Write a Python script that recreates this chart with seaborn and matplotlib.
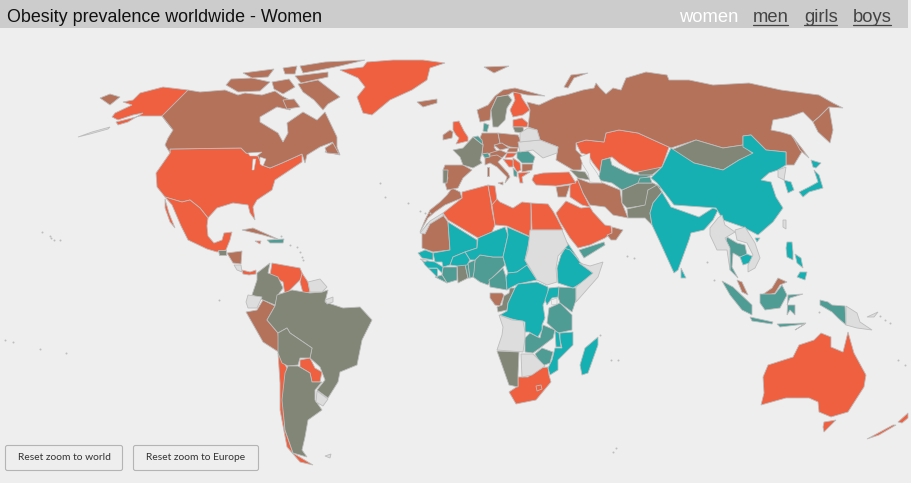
import matplotlib
matplotlib.use('Agg')
import matplotlib.pyplot as plt
from matplotlib.patches import FancyBboxPatch, Rectangle
import seaborn as sns

# country outlines in image pixels (x, y)
usa = [(170,149),(241,148),(246,153),(258,156),(262,165),(270,168),(282,163),(302,154),(302,162),(287,172),(275,180),(272,190),(257,200),(253,207),(255,220),(250,213),(248,205),(233,203),(217,208),(208,218),(200,208),(190,200),(182,202),(165,197),(157,187),(156,173),(163,163),(170,153)]
alaska = [(188,90),(163,87),(140,93),(133,100),(123,102),(132,105),(115,113),(112,117),(118,120),(133,115),(143,113),(128,122),(118,125),(116,122),(140,116),(162,116),(173,130),(165,120)]
aleutian = [(110,127),(92,132),(78,137),(90,134),(108,129)]
mexico = [(165,197),(182,202),(190,200),(200,208),(208,218),(207,226),(208,236),(214,243),(222,240),(224,233),(232,232),(230,240),(226,250),(217,252),(207,249),(188,240),(181,226),(172,205)]
baja = [(165,199),(169,213),(175,228),(170,222),(165,208)]
canada = [(162,116),(188,90),(200,92),(225,90),(238,95),(245,93),(262,95),(275,91),(282,96),(294,102),(290,110),(277,107),(260,117),(260,122),(278,133),(283,142),(288,133),(287,123),(303,112),(317,120),(325,112),(337,137),(337,147),(340,155),(325,152),(333,142),(320,147),(307,155),(305,163),(302,154),(282,163),(270,168),(262,165),(258,156),(246,153),(241,148),(170,149),(170,153),(165,145),(168,138),(173,130)]
baffin = [(298,84),(318,80),(340,97),(328,104),(323,110),(314,100),(303,92)]
ellesmere = [(300,66),(325,62),(365,60),(340,66),(320,70),(303,73)]
devon = [(295,76),(328,72),(328,77),(301,83)]
victoria = [(231,79),(252,78),(270,82),(260,91),(238,92),(226,85)]
parry = [(243,73),(274,69),(268,77),(252,78)]
somerset = [(272,82),(289,79),(295,87),(283,94),(274,89)]
bathurst = [(283,68),(297,66),(295,74),(285,74)]
southampton = [(283,100),(294,99),(300,107),(287,109)]
newfoundland = [(325,148),(333,143),(339,154),(327,153)]
greenland = [(340,70),(363,67),(367,62),(393,60),(423,60),(445,63),(430,68),(427,80),(412,90),(390,100),(372,115),(363,113),(357,97),(365,87),(358,78)]
iceland = [(417,102),(437,99),(437,103),(423,107)]
cuba = [(242,230),(253,228),(280,240),(263,235)]
jamaica = [(255,241),(261,241),(260,244)]
haiti = [(267,240),(284,239),(283,243),(270,243)]
guatemala = [(218,250),(226,250),(226,255),(219,255)]
honduras = [(227,253),(242,251),(241,264),(233,263)]
costa_rica = [(234,265),(241,265),(242,272),(237,270)]
panama = [(242,270),(250,272),(256,270),(256,274),(249,275),(243,274)]
colombia = [(270,263),(268,273),(278,277),(283,288),(278,295),(275,305),(263,300),(252,295),(257,280),(257,273)]
venezuela = [(272,263),(300,268),(303,275),(300,280),(292,288),(285,295),(283,282),(270,275)]
guyana = [(302,273),(308,282),(310,292),(303,293),(300,282)]
suriname = [(308,282),(320,279),(327,287),(322,292),(310,292)]
fr_guiana = [(325,300),(333,297),(333,302),(327,304)]
ecuador = [(248,295),(262,297),(257,308),(248,308),(246,302)]
peru = [(263,300),(275,306),(267,320),(278,333),(280,353),(263,342),(246,312),(257,310)]
brazil = [(277,295),(283,293),(292,290),(310,293),(322,292),(328,290),(325,302),(343,308),(360,307),(372,320),(362,340),(357,365),(340,372),(338,382),(328,398),(317,390),(325,380),(320,367),(310,358),(312,348),(290,333),(287,328),(278,333),(267,320),(275,306)]
bolivia = [(278,333),(287,328),(290,333),(312,348),(310,358),(300,358),(298,365),(288,366),(282,363),(278,353)]
paraguay = [(300,360),(310,358),(315,368),(322,372),(320,382),(312,382),(310,373),(300,367)]
argentina = [(288,366),(298,366),(310,373),(312,382),(322,382),(315,390),(315,400),(322,410),(308,420),(305,437),(302,450),(307,457),(293,453),(285,430),(282,400),(285,373)]
chile = [(278,353),(287,368),(283,400),(285,430),(293,453),(313,465),(300,462),(287,447),(280,410),(280,383)]
uruguay = [(317,391),(328,399),(323,406),(316,402)]
falkland = [(325,456),(331,454),(330,458)]
morocco = [(452,188),(460,192),(462,198),(445,205),(435,212),(428,218),(420,232),(425,220),(430,210),(440,202),(447,195)]
mauritania = [(422,248),(433,252),(450,250),(448,222),(443,215),(427,224),(422,234)]
w_sahara = [(420,233),(430,221),(443,213),(443,216),(430,224),(425,234)]
algeria = [(462,192),(488,185),(490,196),(492,210),(495,225),(492,232),(478,238),(448,220),(443,213),(462,198)]
tunisia = [(488,185),(495,186),(497,200),(492,205),(490,196)]
libya = [(492,205),(497,199),(500,202),(513,208),(522,202),(531,203),(531,237),(507,226),(495,225)]
egypt = [(531,203),(548,204),(553,211),(557,218),(563,230),(532,230)]
sudan = [(530,230),(562,230),(568,245),(558,256),(556,268),(557,282),(547,285),(537,280),(530,268),(525,260),(528,250)]
mali = [(448,222),(477,240),(477,248),(465,252),(453,257),(450,265),(443,267),(442,262),(435,262),(433,253),(450,250)]
niger = [(478,238),(492,232),(505,227),(508,235),(503,257),(493,257),(480,255),(475,260),(470,260),(465,252),(477,248)]
chad = [(507,227),(530,237),(525,260),(528,265),(517,272),(508,273),(503,257),(508,235)]
nigeria = [(475,260),(480,255),(493,257),(503,257),(505,265),(493,277),(488,285),(480,282),(473,277)]
cameroon = [(503,268),(506,277),(507,290),(490,287),(489,280),(493,277)]
car = [(508,273),(517,272),(527,265),(537,280),(518,284),(510,288),(507,290),(506,277)]
drc = [(515,288),(518,284),(537,282),(548,287),(548,295),(543,305),(545,318),(542,325),(542,330),(538,337),(529,332),(525,332),(525,322),(512,319),(500,315),(507,311),(508,303)]
congo = [(510,288),(515,288),(508,303),(507,310),(498,312),(497,307),(502,305),(504,296),(509,293)]
gabon = [(490,293),(502,293),(504,295),(500,306),(495,305),(490,298)]
angola = [(499,315),(512,320),(523,321),(525,332),(525,338),(523,352),(497,350),(502,335),(503,327)]
namibia = [(497,351),(519,352),(518,375),(518,387),(509,385),(503,368)]
botswana = [(521,354),(533,354),(545,366),(532,375),(522,377)]
zambia = [(525,338),(530,333),(540,338),(543,325),(555,330),(553,338),(540,348),(533,353),(525,352)]
zimbabwe = [(535,354),(542,348),(553,352),(550,363),(542,366)]
mozambique = [(560,333),(573,332),(573,345),(558,360),(558,370),(550,375),(548,368),(552,360),(555,348),(562,348),(560,340)]
malawi = [(555,331),(559,333),(561,347),(556,347)]
tanzania = [(549,308),(560,303),(572,315),(572,330),(558,333),(547,323)]
kenya = [(558,287),(576,288),(576,300),(572,312),(560,303),(558,297)]
uganda = [(549,288),(559,287),(558,297),(552,298),(547,305),(545,300)]
ethiopia = [(567,245),(580,262),(595,275),(583,282),(573,288),(558,283),(557,268),(561,255)]
somalia = [(603,262),(598,277),(576,302),(576,287),(593,273),(579,263),(590,266)]
eritrea = [(565,240),(569,245),(579,260),(570,250),(564,248)]
senegal = [(418,253),(425,250),(433,253),(433,260),(422,258)]
guinea_bissau = [(420,259),(428,260),(425,262)]
guinea = [(422,260),(435,262),(443,267),(442,273),(437,268),(428,268),(425,265)]
sierra_leone = [(428,268),(437,268),(437,277)]
liberia = [(435,277),(442,275),(447,283)]
burkina = [(450,265),(453,257),(465,252),(470,260),(467,265),(457,266)]
ivory = [(443,267),(457,267),(457,280),(447,283),(442,275)]
ghana = [(457,264),(465,264),(468,278),(458,283)]
togo = [(465,264),(468,263),(470,278),(468,278)]
benin = [(468,263),(475,260),(474,272),(473,277),(470,278)]
south_africa = [(518,377),(528,377),(539,368),(548,367),(549,375),(551,382),(536,400),(516,404),(509,392),(518,386)]
lesotho = [(536,386),(541,385),(542,389),(537,391)]
madagascar = [(598,337),(598,345),(588,373),(582,375),(580,365),(585,348)]
saudi = [(556,213),(566,201),(581,208),(590,207),(593,212),(605,225),(611,226),(612,233),(605,238),(590,245),(578,248),(570,238),(560,222)]
oman = [(612,227),(623,230),(616,240),(611,240),(607,235),(612,233)]
yemen = [(579,250),(604,242),(605,245),(584,258)]
syria = [(556,187),(570,185),(566,197),(558,197)]
iraq = [(570,185),(578,180),(583,193),(590,207),(582,205),(570,197)]
iran = [(577,178),(590,183),(603,183),(620,190),(622,203),(628,218),(613,215),(605,207),(590,205),(583,193)]
turkey = [(534,175),(543,173),(569,172),(576,183),(556,186),(536,185),(532,180)]
caucasus = [(570,170),(585,172),(590,180),(578,178)]
kazakhstan = [(576,143),(586,140),(604,142),(606,133),(619,130),(638,133),(669,147),(662,167),(648,172),(634,172),(619,163),(612,157),(602,160),(600,172),(593,163),(588,155),(581,153)]
turkmen = [(602,160),(610,158),(612,165),(628,173),(638,175),(653,175),(645,178),(638,183),(622,190),(612,183),(598,180),(600,172)]
kyrgyz = [(638,172),(662,167),(652,175),(640,177)]
tajik = [(640,178),(650,177),(652,183),(638,183)]
afghanistan = [(622,190),(638,183),(653,183),(662,188),(648,190),(647,205),(627,208),(622,203)]
pakistan = [(627,209),(645,205),(648,190),(657,185),(662,192),(653,203),(650,213),(652,225),(645,218),(628,218)]
india = [(662,192),(671,207),(699,217),(713,208),(718,210),(713,220),(704,230),(691,233),(689,240),(678,270),(674,273),(659,240),(652,225),(650,213),(653,203)]
china = [(671,148),(694,163),(723,170),(739,160),(753,153),(743,147),(743,136),(751,135),(766,150),(786,152),(786,165),(778,170),(769,173),(761,180),(771,182),(776,197),(783,208),(773,222),(758,235),(743,227),(723,220),(716,208),(674,205),(664,192),(657,183),(651,178),(662,167)]
mongolia = [(671,150),(696,140),(723,148),(743,145),(753,154),(739,160),(723,170),(694,163)]
russia = [(528,127),(530,110),(527,102),(539,105),(556,97),(566,95),(583,90),(594,88),(596,83),(600,88),(606,94),(613,88),(621,90),(626,78),(646,72),(667,75),(669,80),(689,80),(713,85),(749,83),(781,90),(796,92),(819,95),(833,103),(843,108),(829,107),(819,117),(813,122),(803,112),(789,117),(773,120),(771,130),(781,132),(791,135),(803,150),(794,165),(786,165),(786,152),(766,150),(751,135),(743,136),(743,145),(723,148),(696,140),(671,148),(638,133),(619,130),(606,133),(604,142),(586,140),(576,143),(576,150),(583,157),(581,170),(573,170),(556,160),(558,147),(540,140),(537,130)]
kamchatka = [(813,122),(819,117),(829,107),(833,130),(830,143),(818,132)]
chukotka = [(100,98),(110,94),(120,97),(110,105)]
novaya = [(564,87),(571,75),(588,73),(574,78),(568,88)]
sakhalin = [(793,137),(803,150),(809,158),(800,150)]
svalbard = [(484,67),(509,66),(494,73)]
ukraine = [(518,142),(540,140),(558,147),(557,153),(543,158),(533,150),(520,152)]
belarus = [(520,133),(528,128),(537,130),(540,140),(520,142)]
estonia = [(513,120),(522,118),(528,123),(527,127),(513,127)]
lithuania = [(513,127),(523,127),(524,133),(515,132)]
finland = [(513,92),(520,92),(522,98),(530,110),(523,115),(513,117),(510,110),(515,100)]
sweden = [(497,97),(508,95),(512,100),(507,108),(505,120),(498,127),(493,127),(491,110)]
norway = [(477,110),(488,105),(495,96),(503,90),(515,88),(545,96),(527,95),(513,92),(508,95),(497,97),(491,110),(490,120),(480,122)]
denmark = [(484,123),(489,125),(487,132),(483,131)]
uk = [(453,122),(459,121),(464,131),(468,137),(468,141),(456,144),(459,138),(456,135),(453,130)]
ireland = [(443,135),(450,130),(453,132),(452,138),(443,140)]
france = [(453,150),(463,148),(473,137),(483,145),(482,153),(480,160),(482,163),(473,168),(463,165),(460,157)]
spain = [(445,165),(463,165),(472,170),(463,178),(458,188),(447,190),(445,183),(448,178),(443,170)]
portugal = [(443,170),(448,170),(447,183),(443,183)]
benelux = [(473,137),(478,136),(482,140),(483,145)]
germany = [(482,133),(498,133),(500,143),(494,147),(498,153),(482,154),(483,145),(480,138)]
poland = [(498,133),(518,135),(522,143),(518,148),(510,147),(500,143)]
czechia = [(494,145),(502,143),(509,148),(500,150)]
slovakia = [(509,148),(518,148),(517,152),(507,152)]
austria = [(490,153),(500,150),(507,153),(502,158),(490,157)]
switzerland = [(482,154),(488,153),(490,157),(485,158)]
hungary = [(507,153),(517,153),(513,157),(505,158)]
romania = [(517,152),(528,151),(535,157),(533,163),(522,163),(517,158)]
bulgaria = [(522,164),(533,164),(532,170),(522,172)]
serbia = [(513,158),(520,163),(521,170),(517,172),(513,165)]
croatia = [(503,159),(513,160),(513,167),(509,167)]
italy = [(485,157),(497,155),(502,158),(498,162),(508,173),(510,177),(505,183),(507,177),(497,167),(490,163),(485,165)]
sardinia = [(487,167),(489,167),(489,176),(487,176)]
sicily = [(498,183),(503,182),(503,185)]
albania = [(513,168),(517,172),(517,177),(514,176)]
greece = [(518,173),(530,172),(522,177),(523,183),(520,183)]
myanmar = [(710,228),(718,218),(722,215),(725,225),(735,232),(725,238),(730,248),(730,270),(727,250),(717,250),(710,235)]
thailand = [(727,237),(737,243),(745,245),(747,255),(740,257),(733,253),(732,267),(738,278),(730,270),(730,255),(725,245)]
laos = [(735,230),(745,227),(755,243),(760,258),(755,268),(748,272),(748,265),(753,255),(747,243),(737,240)]
cambodia = [(740,257),(747,254),(754,257),(752,262),(743,265)]
hainan = [(755,238),(760,238),(757,242)]
malaya = [(737,280),(742,282),(748,295),(742,292)]
sarawak = [(762,295),(772,288),(778,278),(787,282),(780,285),(775,293),(765,296)]
kalimantan = [(760,294),(775,294),(782,285),(787,295),(780,308),(765,310),(760,303)]
sumatra = [(722,281),(733,287),(752,305),(752,315),(742,310),(730,295)]
java = [(750,317),(773,322),(772,324),(752,321)]
lesser_sunda = [(777,324),(806,323),(795,330),(805,324),(780,327)]
sulawesi = [(788,295),(803,294),(790,298),(787,305),(795,305),(795,315),(790,310),(787,315)]
papua = [(820,300),(828,302),(832,305),(845,306),(846,325),(838,318),(832,312),(820,305)]
png = [(846,306),(857,313),(860,322),(872,330),(857,328),(846,325)]
new_britain = [(867,317),(878,312),(874,317)]
luzon = [(787,242),(792,242),(793,252),(793,260),(787,257),(786,248)]
visayas = [(795,254),(801,258),(803,268),(797,263)]
mindanao = [(800,272),(807,272),(805,280),(797,277)]
sri_lanka = [(681,268),(686,278),(681,278)]
n_korea = [(778,170),(786,167),(784,180),(778,177)]
s_korea = [(784,180),(791,182),(794,190),(788,193)]
honshu = [(814,170),(819,175),(823,188),(809,192),(803,197),(799,192),(809,187),(818,182)]
hokkaido = [(811,160),(821,163),(816,168),(813,167)]
taiwan = [(783,220),(786,220),(786,229),(783,227)]
australia = [(821,333),(831,337),(831,347),(843,352),(848,332),(854,353),(866,375),(864,387),(848,412),(831,417),(819,412),(818,402),(809,398),(786,398),(761,405),(764,393),(763,377),(768,365),(793,357),(799,345),(814,340)]
tasmania = [(824,422),(836,420),(824,432),(823,427)]
nz_south = [(867,439),(893,425),(896,425),(879,435)]
nz_north = [(898,422),(908,413),(908,418),(902,423)]

orange_countries = [usa, alaska, mexico, baja, greenland, jamaica, panama, venezuela, guyana, paraguay, chile, algeria, tunisia, libya, egypt, south_africa, saudi, iraq, turkey, kazakhstan, estonia, finland, uk, hungary, serbia, croatia, greece, australia, tasmania, nz_south, nz_north, lesotho]
brown_countries = [canada, baffin, ellesmere, devon, victoria, parry, somerset, bathurst, southampton, newfoundland, iceland, cuba, honduras, peru, morocco, mauritania, gabon, oman, syria, iran, russia, kamchatka, chukotka, novaya, sakhalin, svalbard, norway, ireland, spain, germany, poland, czechia, slovakia, austria, bulgaria, italy, sardinia, sicily, malaya, sarawak]
olive_countries = [guatemala, colombia, brazil, bolivia, argentina, congo, namibia, ghana, caucasus, kyrgyz, afghanistan, pakistan, mongolia, lithuania, sweden, france, portugal]
dark_teal_countries = [haiti, nigeria, cameroon, zambia, zimbabwe, tanzania, kenya, ivory, liberia, togo, benin, yemen, turkmen, tajik, denmark, benelux, switzerland, romania, albania, thailand, kalimantan, sumatra, java, lesser_sunda, sulawesi, papua]
teal_countries = [mali, niger, chad, car, drc, mozambique, malawi, uganda, ethiopia, eritrea, senegal, guinea, sierra_leone, burkina, madagascar, india, china, cambodia, hainan, luzon, visayas, mindanao, sri_lanka, s_korea, honshu, hokkaido]
no_data_countries = [aleutian, costa_rica, suriname, fr_guiana, ecuador, uruguay, falkland, w_sahara, guinea_bissau, sudan, angola, botswana, somalia, ukraine, belarus, myanmar, laos, png, new_britain, n_korea, taiwan]

# water that sits inside the land shapes
lake_superior = [(248,153),(262,152),(257,156),(250,156)]
lake_michigan = [(253,159),(256,159),(254,170),(252,170)]
lake_huron = [(260,157),(266,159),(263,166),(260,164)]
lake_victoria = [(551,300),(557,298),(557,304),(552,305)]
caspian = [(580,157),(590,153),(590,163),(597,173),(602,183),(590,182),(588,173),(583,165)]
lakes = [lake_superior, lake_michigan, lake_huron, lake_victoria, caspian]

# tiny islands too small to outline
island_x = [51, 54, 60, 42, 50, 40, 66, 5, 13, 219, 281, 290, 297, 300, 302, 303, 380, 385, 430, 420, 425, 408, 600, 611, 618, 616, 613, 627, 634, 707, 714, 819, 880, 885, 890, 898, 905]
island_y = [238, 240, 240, 232, 236, 349, 353, 340, 342, 300, 236, 245, 247, 252, 257, 260, 183, 197, 213, 211, 213, 203, 335, 360, 360, 448, 452, 256, 258, 262, 280, 312, 316, 320, 323, 360, 365]

title_text = 'Obesity prevalence worldwide - Women'
nav_labels = ['women', 'men', 'girls', 'boys']
nav_left = [679, 753, 804, 853]
nav_right = [737, 788, 837, 891]
button_labels = ['Reset zoom to world', 'Reset zoom to Europe']
button_left = [5, 133]
button_right = [123, 259]

sns.set_theme(style='white')
plt.rcParams['font.family'] = ['Liberation Sans', 'DejaVu Sans']

palette = sns.color_palette(['#EE6040', '#B5725A', '#818676', '#4E9C94', '#17B0B2', '#DDDDDD'])
groups = [orange_countries, brown_countries, olive_countries, dark_teal_countries, teal_countries, no_data_countries]
BG = '#EEEEEE'

fig, ax = plt.subplots(figsize=(9.11, 4.83), dpi=100)
fig.subplots_adjust(0, 0, 1, 1)
fig.patch.set_facecolor(BG)
ax.set_facecolor(BG)
ax.set_xlim(0, 911)
ax.set_ylim(483, 0)
ax.axis('off')

for group, colour in zip(groups, palette):
    for outline in group:
        xs, ys = zip(*outline)
        ax.fill(xs, ys, facecolor=colour, edgecolor='#BDBDBD', linewidth=0.6, zorder=2)

for lake in lakes:
    xs, ys = zip(*lake)
    ax.fill(xs, ys, facecolor=BG, edgecolor='#BDBDBD', linewidth=0.4, zorder=3)

sns.scatterplot(x=island_x, y=island_y, s=2, color='#BDBDBD', linewidth=0, ax=ax, zorder=2)

# header bar
ax.add_patch(Rectangle((0, 0), 908, 28, facecolor='#CCCCCC', edgecolor='none', zorder=4))
ax.text(7, 17, title_text, fontsize=12.9, color='#111111', va='center', ha='left', zorder=5)
for i, label in enumerate(nav_labels):
    active = i == 0
    ax.text(nav_left[i], 17, label, fontsize=13.2, color='white' if active else '#444444', va='center', ha='left', zorder=5)
    if not active:
        ax.plot([nav_left[i], nav_right[i]], [24.5, 24.5], color='#444444', lw=0.9, zorder=5)

# reset buttons
for i, label in enumerate(button_labels):
    width = button_right[i] - button_left[i]
    ax.add_patch(FancyBboxPatch((button_left[i] + 0.5, 445.5), width - 1, 25, boxstyle='round,pad=0,rounding_size=2',
                                facecolor=BG, edgecolor='#B4B4B4', linewidth=0.8, zorder=4))
    ax.text(button_left[i] + width / 2, 458, label, fontsize=7.4, family=['Lato', 'DejaVu Sans'], color='#333333',
            va='center', ha='center', zorder=5)

fig.savefig('out.png', dpi=100, facecolor=BG)
